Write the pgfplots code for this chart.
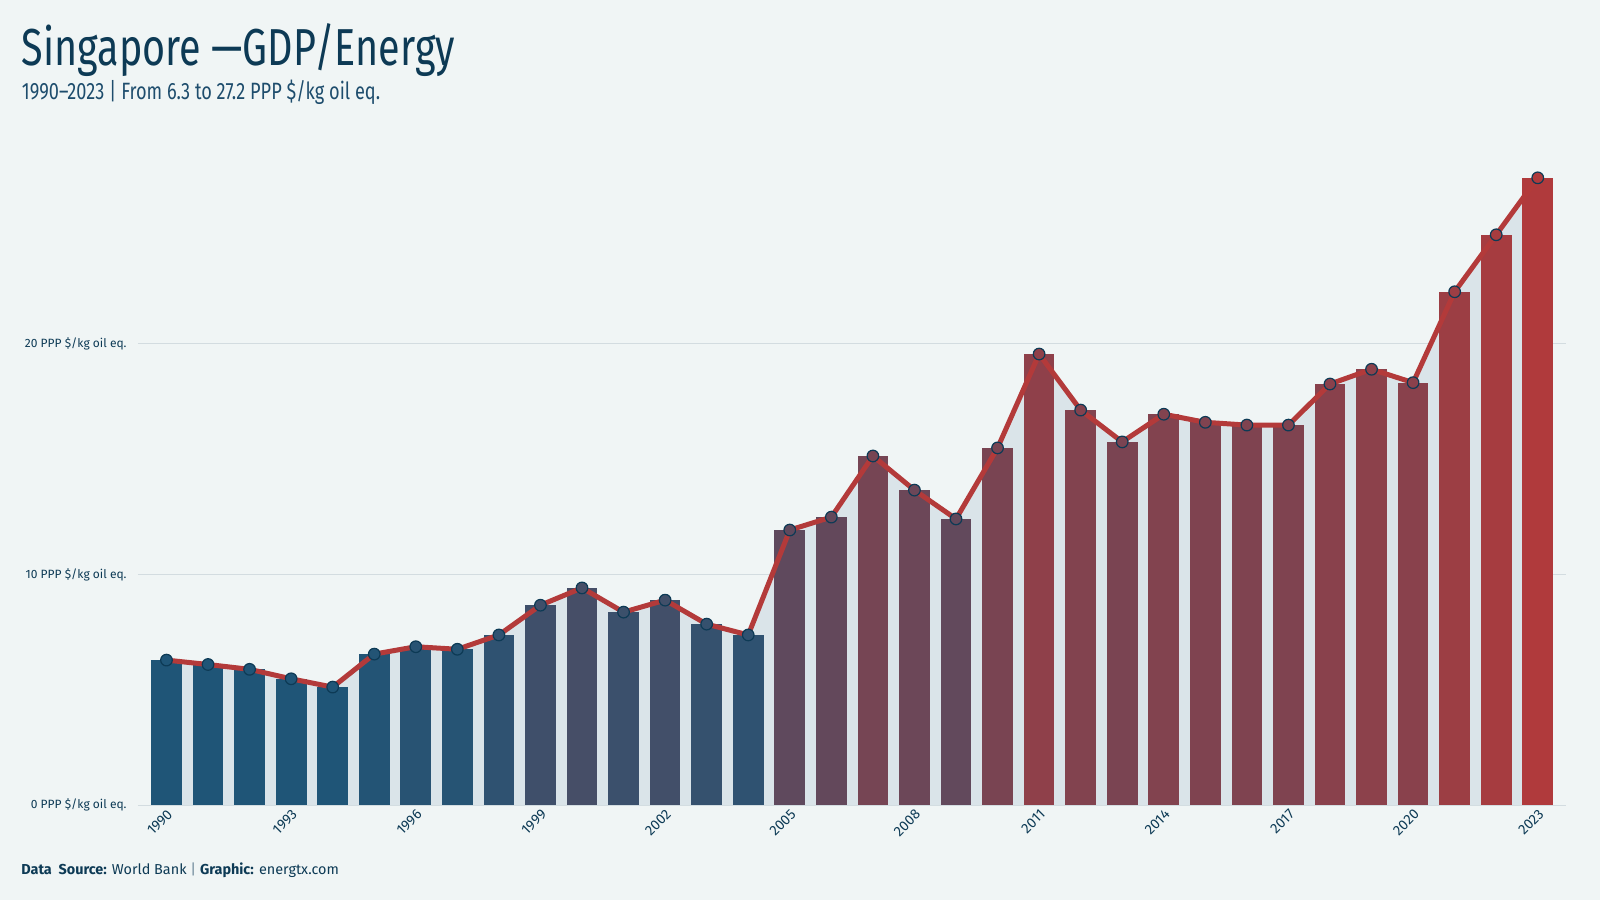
\documentclass[border=0pt]{standalone}
\usepackage{pgfplots}
\pgfplotsset{compat=1.18}
\usepackage{pgfplotstable}
\usepackage{fontspec}
\setmainfont{Fira Sans}
\newfontfamily\titlefont[FakeStretch=0.76]{Fira Sans}
\newfontfamily\subfont[FakeStretch=0.77]{Fira Sans}

\definecolor{bgcol}{HTML}{F0F5F5}
\definecolor{areacol}{HTML}{DAE4E9}
\definecolor{gridcol}{HTML}{D3DCE0}
\definecolor{navy}{HTML}{0D3A55}
\definecolor{subnavy}{HTML}{1E4D6D}
\definecolor{lowblue}{HTML}{1F5577}
\definecolor{highred}{HTML}{B03A3C}
\definecolor{linered}{HTML}{B33A3A}
\definecolor{sepgray}{HTML}{6C8799}

% GDP per unit of energy use, PPP $ per kg of oil equivalent
\pgfplotstableread{
idx year value
0 1990 6.29
1 1991 6.10
2 1992 5.89
3 1993 5.48
4 1994 5.12
5 1995 6.55
6 1996 6.87
7 1997 6.76
8 1998 7.38
9 1999 8.67
10 2000 9.42
11 2001 8.37
12 2002 8.89
13 2003 7.85
14 2004 7.38
15 2005 11.93
16 2006 12.49
17 2007 15.14
18 2008 13.66
19 2009 12.41
20 2010 15.49
21 2011 19.56
22 2012 17.13
23 2013 15.75
24 2014 16.95
25 2015 16.60
26 2016 16.48
27 2017 16.48
28 2018 18.26
29 2019 18.90
30 2020 18.32
31 2021 22.26
32 2022 24.73
33 2023 27.20
}\gdpdata

% colour scale: logarithmic between the first (6.3) and last (27.2) value
\def\scalelo{6.3}
\def\scalehi{27.2}

\begin{document}
\begin{tikzpicture}[x=1bp,y=1bp]
\useasboundingbox (0,0) rectangle (800,450);
\fill[bgcol] (0,0) rectangle (800,450);

\node[anchor=base west, inner sep=0, text=navy,
      font={\titlefont\fontsize{26bp}{30bp}\selectfont}]
  at (10.8,417.2) {Singapore —GDP/Energy};
\node[anchor=base west, inner sep=0, text=subnavy,
      font={\subfont\fontsize{11.8bp}{14bp}\selectfont}]
  at (10.8,400) {1990–2023 | From 6.3 to 27.2 PPP \$/kg oil eq.};
\node[anchor=base west, inner sep=0, text=navy,
      font={\fontsize{7.2bp}{9bp}\selectfont}]
  at (10.5,12.5) {\textbf{Data\ \ Source:} World Bank {\color{sepgray}|} \textbf{Graphic:} energtx.com};

\begin{axis}[
  at={(68.9bp,47.4bp)}, anchor=south west,
  scale only axis, width=714.3bp, height=322.9bp,
  xmin=-0.69, xmax=33.69, ymin=0, ymax=28,
  axis line style={draw=none},
  major tick length=0pt,
  ymajorgrids, grid style={gridcol, line width=0.6bp},
  ytick={0,10,20},
  yticklabels={0 PPP \$/kg oil eq., 10 PPP \$/kg oil eq., 20 PPP \$/kg oil eq.},
  yticklabel style={anchor=east, inner sep=0pt, xshift=-5.4bp,
    font={\fontsize{6.0bp}{7bp}\selectfont}, text=navy},
  xtick={0,3,6,9,12,15,18,21,24,27,30,33},
  xticklabels={1990,1993,1996,1999,2002,2005,2008,2011,2014,2017,2020,2023},
  xticklabel style={rotate=45, anchor=north east, inner sep=1bp,
    font={\fontsize{7.1bp}{8bp}\selectfont}, text=navy},
  colormap={barmap}{color=(lowblue) color=(highred)},
  point meta min=0, point meta max=1,
]
% shaded area under the series
\addplot[draw=none, fill=areacol] table[x=idx, y=value]{\gdpdata} \closedcycle;

% one bar per year, shaded from blue to red
\pgfplotsinvokeforeach{0,...,33}{
  \pgfplotstablegetelem{#1}{value}\of\gdpdata
  \let\barval\pgfplotsretval
  \pgfmathtruncatemacro\redshare{round(100*max(0,ln(\barval/\scalelo)/ln(\scalehi/\scalelo)))}
  \edef\drawbar{\noexpand\addplot[ybar, bar width=0.74, bar shift=0pt, draw=none,
      fill=highred!\redshare!lowblue] coordinates {(#1,\barval)};}
  \drawbar
}

% trend line with markers in the bar colours
\addplot[linered, line width=2.5bp, line join=round,
  scatter, mark=*, mark size=2.9bp,
  point meta={max(0,ln(\thisrow{value}/\scalelo)/ln(\scalehi/\scalelo))},
  scatter/use mapped color={draw=navy, fill=mapped color},
  mark options={solid, line width=0.6bp}]
  table[x=idx, y=value]{\gdpdata};
\end{axis}
\end{tikzpicture}
\end{document}
